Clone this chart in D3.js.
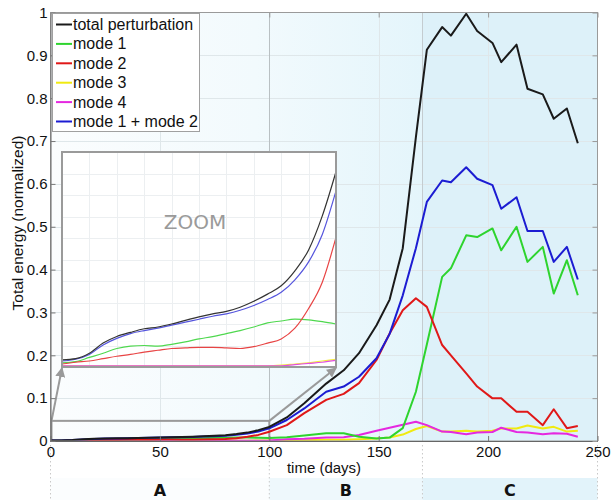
<!DOCTYPE html>
<html>
<head>
<meta charset="utf-8">
<script src="https://cdn.jsdelivr.net/npm/d3@7"></script>
<style>
  html, body { margin: 0; padding: 0; background: #fff; }
  svg { display: block; font-family: "Liberation Sans", Arial, sans-serif; }
</style>
</head>
<body>
<svg id="chart" width="611" height="500"></svg>
<script>
// Simulation output: time (days) and normalized total energy per mode
const days = [0, 5, 10, 15, 20, 25, 30, 35, 40, 45, 50, 55, 60, 65, 70, 75, 80, 85, 90, 95, 100,
  108, 116, 126, 134, 141, 149, 155, 161, 167, 172, 179, 183, 190, 195, 202, 206, 213, 218, 225, 230, 236, 241];

const totalPerturbation = [0.0012, 0.0014, 0.0023, 0.0040, 0.0051, 0.0058, 0.0064, 0.0067, 0.0072, 0.0078, 0.0084,
  0.0089, 0.0093, 0.0100, 0.0110, 0.0122, 0.0136, 0.0161, 0.0196, 0.0253, 0.0327,
  0.055, 0.088, 0.134, 0.165, 0.205, 0.270, 0.330, 0.450, 0.709, 0.913, 0.966, 0.946, 0.997, 0.957, 0.929, 0.884,
  0.925, 0.822, 0.809, 0.752, 0.776, 0.695];

const mode1 = [0.0007, 0.0009, 0.0016, 0.0023, 0.0031, 0.0035, 0.0036, 0.0035, 0.0038, 0.0042, 0.0047,
  0.0051, 0.0056, 0.0061, 0.0067, 0.0074, 0.0077, 0.0080, 0.0079, 0.0076, 0.0072,
  0.009, 0.013, 0.018, 0.018, 0.010, 0.006, 0.008, 0.030, 0.115, 0.225, 0.383, 0.403, 0.480, 0.476, 0.496, 0.445,
  0.500, 0.418, 0.453, 0.344, 0.422, 0.340];

const mode2 = [0.0005, 0.0008, 0.0010, 0.0014, 0.0018, 0.0021, 0.0025, 0.0028, 0.0031, 0.0032, 0.0033,
  0.0033, 0.0032, 0.0031, 0.0034, 0.0040, 0.0047, 0.0065, 0.0098, 0.0142, 0.0217,
  0.037, 0.065, 0.096, 0.110, 0.135, 0.189, 0.251, 0.305, 0.333, 0.313, 0.224, 0.200, 0.158, 0.127, 0.0995, 0.0995,
  0.068, 0.068, 0.037, 0.074, 0.030, 0.035];

const mode3 = [0.0002, 0.0002, 0.0002, 0.0002, 0.0002, 0.0002, 0.0002, 0.0002, 0.0002, 0.0002, 0.0002,
  0.0002, 0.0002, 0.0002, 0.0002, 0.0002, 0.0003, 0.0005, 0.0007, 0.0010, 0.0013,
  0.001, 0.002, 0.003, 0.003, 0.004, 0.006, 0.008, 0.015, 0.028, 0.035, 0.022, 0.022, 0.024, 0.022, 0.024, 0.029,
  0.029, 0.036, 0.029, 0.033, 0.022, 0.024];

const mode4 = [0.0002, 0.0002, 0.0002, 0.0002, 0.0002, 0.0002, 0.0002, 0.0002, 0.0002, 0.0002, 0.0002,
  0.0002, 0.0002, 0.0002, 0.0002, 0.0002, 0.0002, 0.0004, 0.0006, 0.0008, 0.0011,
  0.004, 0.005, 0.008, 0.009, 0.014, 0.024, 0.031, 0.038, 0.045, 0.037, 0.022, 0.021, 0.016, 0.020, 0.021, 0.031,
  0.021, 0.020, 0.016, 0.018, 0.017, 0.010];

const mode1plus2 = [0.0010, 0.0013, 0.0021, 0.0037, 0.0048, 0.0056, 0.0061, 0.0065, 0.0070, 0.0075, 0.0080,
  0.0085, 0.0089, 0.0095, 0.0103, 0.0113, 0.0125, 0.0146, 0.0176, 0.0222, 0.0295,
  0.049, 0.076, 0.115, 0.127, 0.150, 0.193, 0.250, 0.340, 0.450, 0.558, 0.608, 0.604, 0.639, 0.612, 0.597, 0.542,
  0.569, 0.490, 0.490, 0.418, 0.453, 0.377];

const seriesNames = ["total perturbation", "mode 1", "mode 2", "mode 3", "mode 4", "mode 1 + mode 2"];
const seriesColors = ["#1a1a1a", "#2ed42e", "#e01818", "#f0ea10", "#e528e0", "#1c1cd2"];
const seriesValues = [totalPerturbation, mode1, mode2, mode3, mode4, mode1plus2];
// drawing order (back to front)
const drawOrder = [3, 4, 1, 2, 5, 0];

const xTicks = [0, 50, 100, 150, 200, 250];
const yTicks = [0, 0.1, 0.2, 0.3, 0.4, 0.5, 0.6, 0.7, 0.8, 0.9, 1];
const yTickLabels = ["0", "0.1", "0.2", "0.3", "0.4", "0.5", "0.6", "0.7", "0.8", "0.9", "1"];

const phaseNames = ["A", "B", "C"];
const phaseBounds = [0, 100, 170, 250];

// zoom window shown in the inset (days, energy)
const zoomDays = [0, 100];
const zoomBoxTop = 0.047;
const insetEnergyMax = 0.036;

const svg = d3.select("#chart");
const W = 611, H = 500;
const x = d3.scaleLinear().domain([0, 250]).range([50.5, 597.5]);
const y = d3.scaleLinear().domain([0, 1]).range([441, 12.5]);
const [x0, x1] = x.range();
const [yb, yt] = y.range();

// ---- backgrounds ----
const defs = svg.append("defs");
const gAB = defs.append("linearGradient").attr("id", "gradAB")
  .attr("x1", "0%").attr("x2", "100%").attr("y1", "0%").attr("y2", "0%");
gAB.append("stop").attr("offset", "0%").attr("stop-color", "#fbfdfe");
gAB.append("stop").attr("offset", "55%").attr("stop-color", "#f2fafd");
gAB.append("stop").attr("offset", "100%").attr("stop-color", "#e4f5fb");

svg.append("rect").attr("x", x(phaseBounds[0])).attr("y", yt)
  .attr("width", x(phaseBounds[2]) - x(phaseBounds[0])).attr("height", yb - yt)
  .attr("fill", "url(#gradAB)");
svg.append("rect").attr("x", x(phaseBounds[2])).attr("y", yt)
  .attr("width", x(phaseBounds[3]) - x(phaseBounds[2])).attr("height", yb - yt)
  .attr("fill", "#ddf1f9");

// phase strip below the axis
const stripFill = ["#fbfdfe", "#eef8fc", "#e2f3fa"];
const stripTop = 478, stripBot = 500;
phaseNames.forEach((n, i) => {
  svg.append("rect").attr("x", x(phaseBounds[i])).attr("y", stripTop)
    .attr("width", x(phaseBounds[i + 1]) - x(phaseBounds[i])).attr("height", stripBot - stripTop)
    .attr("fill", stripFill[i]);
  svg.append("text").attr("x", x((phaseBounds[i] + phaseBounds[i + 1]) / 2)).attr("y", 496)
    .attr("text-anchor", "middle").attr("font-size", 16).attr("font-weight", "bold")
    .attr("font-family", "'DejaVu Sans', sans-serif").attr("fill", "#111").text(n);
});
phaseBounds.forEach(b => {
  svg.append("line").attr("x1", x(b)).attr("x2", x(b)).attr("y1", yb + 4).attr("y2", H)
    .attr("stroke", "#c8c8c8").attr("stroke-width", 1).attr("stroke-dasharray", "1.5,2.5");
});

// ---- grid ----
const grid = svg.append("g");
yTicks.slice(1, -1).forEach(t => {
  grid.append("line").attr("x1", x0).attr("x2", x1).attr("y1", Math.round(y(t)) + 0.5).attr("y2", Math.round(y(t)) + 0.5)
    .attr("stroke", "#dfe7ea").attr("stroke-width", 1);
});
xTicks.slice(1, -1).forEach(t => {
  grid.append("line").attr("x1", Math.round(x(t)) + 0.5).attr("x2", Math.round(x(t)) + 0.5).attr("y1", yt).attr("y2", yb)
    .attr("stroke", t === 100 ? "#b9c0c3" : "#dfe7ea").attr("stroke-width", 1);
});
grid.append("line").attr("x1", Math.round(x(phaseBounds[2])) + 0.5).attr("x2", Math.round(x(phaseBounds[2])) + 0.5)
  .attr("y1", yt).attr("y2", yb).attr("stroke", "#c4ccd0").attr("stroke-width", 1);

// ---- zoom window and arrows (inset geometry) ----
const ix = d3.scaleLinear().domain(zoomDays).range([62, 336]);
const iy = d3.scaleLinear().domain([0, insetEnergyMax]).range([367, 152]);
const [ix0, ix1] = ix.range();
const [iyb, iyt] = iy.range();

defs.append("marker").attr("id", "arrowHead").attr("viewBox", "0 0 10 10")
  .attr("refX", 9).attr("refY", 5).attr("markerWidth", 5).attr("markerHeight", 5)
  .attr("orient", "auto").append("path").attr("d", "M0,0L10,5L0,10z").attr("fill", "#9a9a9a");

svg.append("rect").attr("x", x(zoomDays[0]) + 1).attr("y", y(zoomBoxTop))
  .attr("width", x(zoomDays[1]) - x(zoomDays[0]) - 1).attr("height", yb - y(zoomBoxTop))
  .attr("fill", "none").attr("stroke", "#9a9a9a").attr("stroke-width", 2);
svg.append("line").attr("x1", x(zoomDays[0]) + 1).attr("y1", y(zoomBoxTop))
  .attr("x2", ix0).attr("y2", iyb + 1).attr("stroke", "#9a9a9a").attr("stroke-width", 2)
  .attr("marker-end", "url(#arrowHead)");
svg.append("line").attr("x1", x(zoomDays[1])).attr("y1", y(zoomBoxTop))
  .attr("x2", ix1).attr("y2", iyb + 1).attr("stroke", "#9a9a9a").attr("stroke-width", 2)
  .attr("marker-end", "url(#arrowHead)");

// ---- main series ----
const line = d3.line().x((d, i) => x(days[i])).y(d => y(d));
const lines = svg.append("g");
drawOrder.forEach(k => {
  lines.append("path").datum(seriesValues[k]).attr("d", line)
    .attr("fill", "none").attr("stroke", seriesColors[k]).attr("stroke-width", 2)
    .attr("stroke-linejoin", "round");
});

// ---- axes frame ----
svg.append("rect").attr("x", x0).attr("y", yt).attr("width", x1 - x0).attr("height", yb - yt)
  .attr("fill", "none").attr("stroke", "#9a9a9a").attr("stroke-width", 1);

const xAxis = d3.axisBottom(x).tickValues(xTicks).tickSizeInner(-5).tickSizeOuter(0).tickPadding(4);
const gx = svg.append("g").attr("transform", `translate(0,${yb})`).call(xAxis);
gx.select(".domain").attr("stroke", "#666");
gx.selectAll(".tick line").attr("stroke", "#777");
gx.selectAll(".tick text").attr("font-size", 15).attr("fill", "#111")
  .attr("font-family", "'Liberation Sans', Arial, sans-serif").attr("dy", "0.78em");

const yAxis = d3.axisLeft(y).tickValues(yTicks).tickFormat((d, i) => yTickLabels[i])
  .tickSizeInner(-5).tickSizeOuter(0).tickPadding(3);
const gy = svg.append("g").attr("transform", `translate(${x0},0)`).call(yAxis);
gy.select(".domain").attr("stroke", "#666");
gy.selectAll(".tick line").attr("stroke", "#777");
gy.selectAll(".tick text").attr("font-size", 15).attr("fill", "#111")
  .attr("font-family", "'Liberation Sans', Arial, sans-serif");

// mirror ticks on the right and top edges
const yRight = d3.axisLeft(y).tickValues(yTicks).tickSizeInner(5).tickSizeOuter(0).tickFormat("");
const gyr = svg.append("g").attr("transform", `translate(${x1},0)`).call(yRight);
gyr.select(".domain").remove();
gyr.selectAll(".tick line").attr("stroke", "#999");
const xTop = d3.axisBottom(x).tickValues(xTicks).tickSizeInner(5).tickSizeOuter(0).tickFormat("");
const gxt = svg.append("g").attr("transform", `translate(0,${yt})`).call(xTop);
gxt.select(".domain").remove();
gxt.selectAll(".tick line").attr("stroke", "#999");

// axis titles
svg.append("text").attr("x", x(125)).attr("y", 473).attr("text-anchor", "middle")
  .attr("font-size", 15).attr("fill", "#111").text("time (days)");
svg.append("text").attr("transform", "translate(23,223) rotate(-90)")
  .attr("text-anchor", "middle").attr("font-size", 15.5).attr("fill", "#111")
  .text("Total energy (normalized)");

// ---- inset ----
const inset = svg.append("g");
inset.append("rect").attr("x", ix0).attr("y", iyt).attr("width", ix1 - ix0).attr("height", iyb - iyt)
  .attr("fill", "#ffffff");
d3.range(1, 10).forEach(k => {
  const gxk = Math.round(ix0 + (ix1 - ix0) * k / 10) + 0.5;
  const gyk = Math.round(iyb - (iyb - iyt) * k / 10) + 0.5;
  inset.append("line").attr("x1", gxk).attr("x2", gxk).attr("y1", iyt).attr("y2", iyb)
    .attr("stroke", "#eceff1").attr("stroke-width", 1);
  inset.append("line").attr("x1", ix0).attr("x2", ix1).attr("y1", gyk).attr("y2", gyk)
    .attr("stroke", "#eceff1").attr("stroke-width", 1);
});
inset.append("text").attr("x", 195).attr("y", 229).attr("text-anchor", "middle")
  .attr("font-size", 20).attr("fill", "#9a9a9a").attr("font-family", "'DejaVu Sans', sans-serif")
  .text("ZOOM");

const nZoom = days.filter(d => d <= zoomDays[1]).length;
const insetLine = d3.line().curve(d3.curveMonotoneX)
  .x((d, i) => ix(days[i])).y(d => iy(d));
const insetColors = ["#333333", "#4fd84f", "#e84444", "#f2ec40", "#e24fe0", "#5555dd"];
drawOrder.forEach(k => {
  inset.append("path").datum(seriesValues[k].slice(0, nZoom)).attr("d", insetLine)
    .attr("fill", "none").attr("stroke", insetColors[k]).attr("stroke-width", 1.2);
});
inset.append("rect").attr("x", ix0).attr("y", iyt).attr("width", ix1 - ix0).attr("height", iyb - iyt)
  .attr("fill", "none").attr("stroke", "#9a9a9a").attr("stroke-width", 2);

// ---- legend ----
const legend = svg.append("g");
legend.append("rect").attr("x", 52.5).attr("y", 13.5).attr("width", 147).attr("height", 118)
  .attr("fill", "#ffffff").attr("stroke", "#a0a0a0").attr("stroke-width", 1);
seriesNames.forEach((n, i) => {
  const ly = 24.5 + i * 19.4;
  legend.append("line").attr("x1", 56).attr("x2", 72).attr("y1", ly).attr("y2", ly)
    .attr("stroke", seriesColors[i]).attr("stroke-width", 2);
  legend.append("text").attr("x", 73).attr("y", ly + 5.5).attr("font-size", 16).attr("fill", "#111").text(n);
});
</script>
</body>
</html>
